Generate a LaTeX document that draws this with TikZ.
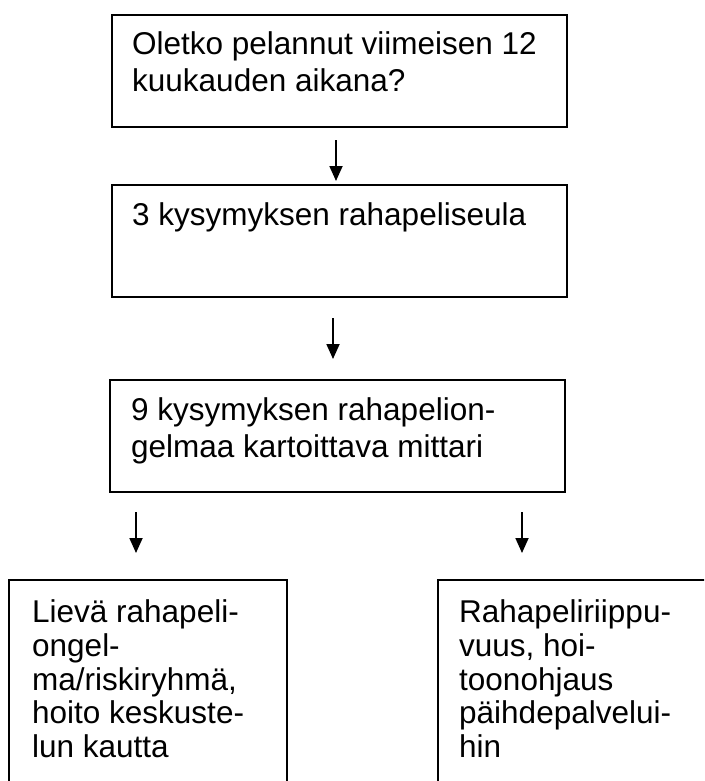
\documentclass[tikz,border=0pt]{standalone}
\usepackage{fontspec}
\setmainfont{Liberation Sans}
\usetikzlibrary{arrows.meta}
\tikzset{
  box/.style={draw=black, line width=1.7pt, rectangle, inner sep=0pt},
  txt/.style={anchor=base west, inner sep=0pt, font=\fontsize{31.5}{36}\selectfont},
  arr/.style={line width=1.8pt, -{Triangle[length=15pt,width=13pt]}}
}
\begin{document}
\begin{tikzpicture}[x=1pt,y=-1pt]
\useasboundingbox (0,0) rectangle (704,781);
\clip (0,0) rectangle (704,781);
% boxes
\node[box, minimum width=455pt, minimum height=112pt] (b1) at (339.5,71) {};
\node[box, minimum width=455pt, minimum height=112pt] (b2) at (339.5,241) {};
\node[box, minimum width=455pt, minimum height=112pt] (b3) at (337.5,436) {};
\node[box, minimum width=278pt, minimum height=240pt] (b4) at (148,700) {};
\node[box, minimum width=290pt, minimum height=240pt] (b5) at (583,700) {};
% texts
\node[txt] (t11) at (132,55) {Oletko pelannut viimeisen 12};
\node[txt] (t12) at (132,92) {kuukauden aikana?};
\node[txt] (t21) at (132,225) {3 kysymyksen rahapeliseula};
\node[txt] (t31) at (131,420) {9 kysymyksen rahapelion-};
\node[txt] (t32) at (131,457) {gelmaa kartoittava mittari};
\node[txt] (t41) at (32,622) {Lievä rahapeli-};
\node[txt] (t42) at (32,656) {ongel-};
\node[txt] (t43) at (32,690) {ma/riskiryhmä,};
\node[txt] (t44) at (32,723) {hoito keskuste-};
\node[txt] (t45) at (32,757) {lun kautta};
\node[txt] (t51) at (459,622) {Rahapeliriippu-};
\node[txt] (t52) at (459,656) {vuus, hoi-};
\node[txt] (t53) at (459,690) {toonohjaus};
\node[txt] (t54) at (459,723) {päihdepalvelui-};
\node[txt] (t55) at (459,757) {hin};
% arrows
\coordinate (a1s) at (336,140); \coordinate (a1e) at (336,181);
\coordinate (a2s) at (333,318); \coordinate (a2e) at (333,359);
\coordinate (a3s) at (136,512); \coordinate (a3e) at (136,553);
\coordinate (a4s) at (522,512); \coordinate (a4e) at (522,553);
\draw[arr] (a1s) -- (a1e);
\draw[arr] (a2s) -- (a2e);
\draw[arr] (a3s) -- (a3e);
\draw[arr] (a4s) -- (a4e);
\end{tikzpicture}
\end{document}
